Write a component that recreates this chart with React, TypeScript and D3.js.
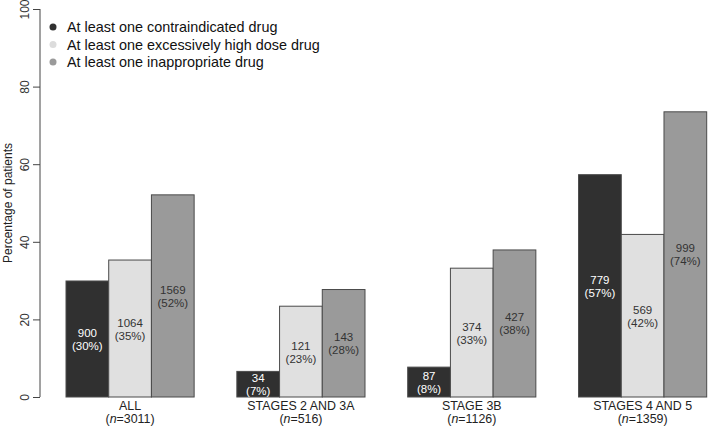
import * as d3 from "d3";
import { useEffect, useRef } from "react";

const groups = ["ALL", "STAGES 2 AND 3A", "STAGE 3B", "STAGES 4 AND 5"];
const groupN = ["3011", "516", "1126", "1359"];
const seriesNames = [
  "At least one contraindicated drug",
  "At least one excessively high dose drug",
  "At least one inappropriate drug"
];
// percentages per group, per series
const percents = [
  [29.9, 35.3, 52.1],
  [6.6, 23.4, 27.7],
  [7.7, 33.2, 37.9],
  [57.3, 41.9, 73.5]
];
const counts = [
  [900, 1064, 1569],
  [34, 121, 143],
  [87, 374, 427],
  [779, 569, 999]
];
const pctLabels = [
  [30, 35, 52],
  [7, 23, 28],
  [8, 33, 38],
  [57, 42, 74]
];
const yTicks = [0, 20, 40, 60, 80, 100];

const fills = ["#303030", "#e0e0e0", "#9a9a9a"];
const labelColors = ["#ffffff", "#333333", "#333333"];

const W = 709;
const H = 428;

const App = () => {
  const ref = useRef(null);

  useEffect(() => {
    const svg = d3.select(ref.current);
    svg.selectAll("*").remove();

    const font = "Liberation Sans, Arial, Helvetica, sans-serif";

    // R style barplot units: each group = 1 gap + 3 bars
    const x = d3.scaleLinear().domain([1, 16]).range([66, 706.7]);
    const y = d3.scaleLinear().domain([0, 100]).range([397, 9]);

    // y axis
    const yAxis = d3.axisLeft(y).tickValues(yTicks).tickSize(7).tickFormat(d3.format("d"));
    const gy = svg.append("g").attr("transform", "translate(40,0)").call(yAxis);
    gy.select(".domain").attr("d", `M0,${y(0)}V${y(100)}`).attr("stroke", "#444");
    gy.selectAll(".tick line").attr("stroke", "#444");
    gy.selectAll(".tick text")
      .attr("font-family", font)
      .attr("font-size", 12)
      .attr("fill", "#333")
      .attr("text-anchor", "middle")
      .attr("transform", "rotate(-90)")
      .attr("x", 0)
      .attr("dy", 0)
      .attr("y", -11);

    svg.append("text")
      .attr("transform", `translate(12,${(y(0) + y(100)) / 2}) rotate(-90)`)
      .attr("text-anchor", "middle")
      .attr("font-family", font)
      .attr("font-size", 12)
      .attr("fill", "#222")
      .text("Percentage of patients");

    groups.forEach((g, gi) => {
      percents[gi].forEach((v, si) => {
        const u = 1 + gi * 4 + si;
        const x0 = x(u);
        const x1 = x(u + 1);
        svg.append("rect")
          .attr("x", x0)
          .attr("y", y(v))
          .attr("width", x1 - x0)
          .attr("height", y(0) - y(v))
          .attr("fill", fills[si])
          .attr("stroke", "#4a4a4a")
          .attr("stroke-width", 1);

        const cx = (x0 + x1) / 2;
        const mid = (y(v) + y(0)) / 2;
        const t = svg.append("text")
          .attr("text-anchor", "middle")
          .attr("font-family", font)
          .attr("font-size", 11.5)
          .attr("fill", labelColors[si]);
        t.append("tspan").attr("x", cx).attr("y", mid - 2).text(counts[gi][si]);
        t.append("tspan").attr("x", cx).attr("y", mid + 11).text(`(${pctLabels[gi][si]}%)`);
      });

      const gc = x(1 + gi * 4 + 1.5);
      svg.append("text")
        .attr("x", gc)
        .attr("y", 410)
        .attr("text-anchor", "middle")
        .attr("font-family", font)
        .attr("font-size", 12.4)
        .attr("fill", "#222")
        .text(g);
      const nt = svg.append("text")
        .attr("x", gc)
        .attr("y", 423)
        .attr("text-anchor", "middle")
        .attr("font-family", font)
        .attr("font-size", 12.4)
        .attr("fill", "#222");
      nt.append("tspan").text("(");
      nt.append("tspan").attr("font-style", "italic").text("n");
      nt.append("tspan").text(`=${groupN[gi]})`);
    });

    // legend
    seriesNames.forEach((name, i) => {
      const ly = 27 + i * 17.5;
      svg.append("circle")
        .attr("cx", 53)
        .attr("cy", ly)
        .attr("r", 3.5)
        .attr("fill", fills[i] === "#e0e0e0" ? "#dcdcdc" : fills[i]);
      svg.append("text")
        .attr("x", 67)
        .attr("y", ly + 5)
        .attr("font-family", font)
        .attr("font-size", 14.4)
        .attr("fill", "#111")
        .text(name);
    });
  }, []);

  return (
    <svg ref={ref} width={W} height={H} style={{ position: "absolute", left: 0, top: 0 }}></svg>
  );
};

export default App;
